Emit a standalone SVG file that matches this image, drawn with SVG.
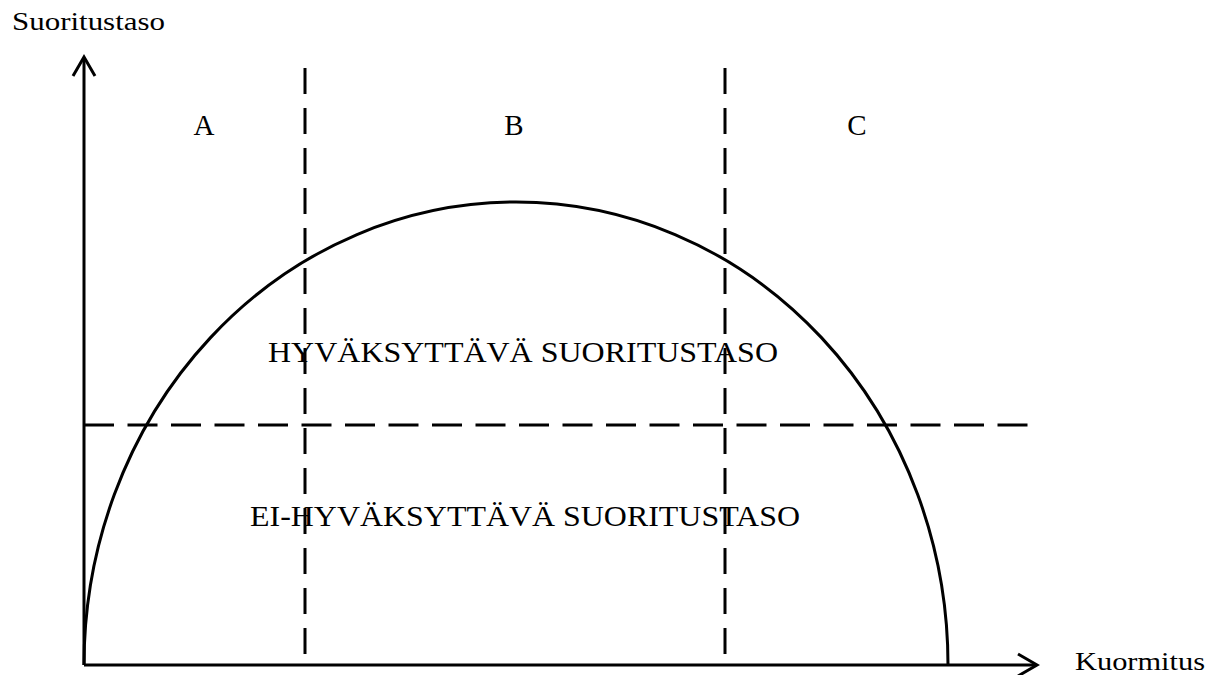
<svg xmlns="http://www.w3.org/2000/svg" width="1224" height="675" viewBox="0 0 1224 675">
<style>
.t{font-family:"Liberation Serif","Times New Roman",serif;fill:#000}
.ax{stroke:#000;stroke-width:3;fill:none}
.dv{stroke:#000;stroke-width:3;fill:none;stroke-dasharray:26 14}
.dh{stroke:#000;stroke-width:3;fill:none;stroke-dasharray:30 13.5}
</style>
<rect width="1224" height="675" fill="#fff"/>
<g id="connectors">
<path class="ax" d="M84 665 V58"/>
<path class="ax" d="M73 76 L84 57 L95 76"/>
<path class="ax" d="M84 665 H1036"/>
<path class="ax" d="M1018 654 L1037 665 L1018 676"/>
<path class="dv" d="M305 68 V665"/>
<path class="dv" d="M725 68 V665"/>
<path class="dh" d="M84 425 H1028"/>
<path class="ax" d="M84 665 A432 463 0 0 1 948 665"/>
</g>
<g id="labels">
<text class="t" x="12" y="30" font-size="26" textLength="153" lengthAdjust="spacingAndGlyphs">Suoritustaso</text>
<text class="t" x="1075" y="670" font-size="26" textLength="130" lengthAdjust="spacingAndGlyphs">Kuormitus</text>
<text class="t" x="204" y="135" font-size="29" text-anchor="middle">A</text>
<text class="t" x="514" y="135" font-size="29" text-anchor="middle">B</text>
<text class="t" x="857" y="135" font-size="29" text-anchor="middle">C</text>
<text class="t" x="268" y="362" font-size="29" textLength="510" lengthAdjust="spacingAndGlyphs">HYVÄKSYTTÄVÄ SUORITUSTASO</text>
<text class="t" x="250" y="526" font-size="29" textLength="550" lengthAdjust="spacingAndGlyphs">EI-HYVÄKSYTTÄVÄ SUORITUSTASO</text>
</g>
</svg>
